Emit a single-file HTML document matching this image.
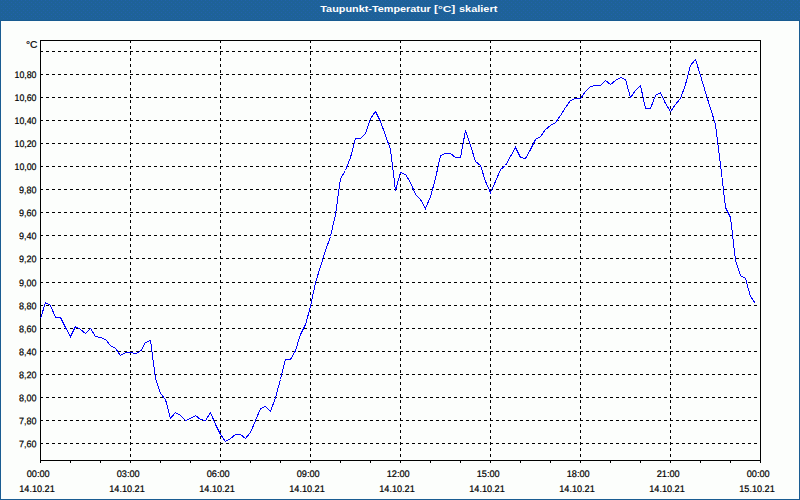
<!DOCTYPE html>
<html><head><meta charset="utf-8"><title>Taupunkt-Temperatur</title>
<style>
html,body{margin:0;padding:0;background:#fcfefc;}
body{width:800px;height:500px;overflow:hidden;font-family:"Liberation Sans",sans-serif;}
svg{display:block;position:absolute;left:0;top:0;}
text{font-family:"Liberation Sans",sans-serif;}
</style></head><body>
<svg width="800" height="500" viewBox="0 0 800 500">
<defs><pattern id="dt" width="4" height="4" patternUnits="userSpaceOnUse"><rect width="4" height="4" fill="#1e6298"/><rect x="1" y="0" width="1" height="1" fill="#2162ac"/><rect x="3" y="2" width="1" height="1" fill="#2162ac"/></pattern></defs>
<rect x="0" y="0" width="800" height="500" fill="#fcfefc"/>
<rect x="0" y="0" width="800" height="21" fill="url(#dt)"/>
<rect x="0" y="20" width="800" height="1" fill="#185b91"/>
<rect x="0" y="20" width="1" height="480" fill="#1a5c92"/>
<rect x="799" y="20" width="1" height="480" fill="#1a5c92"/>
<rect x="0" y="499" width="800" height="1" fill="#1a5c92"/>
<g font-size="9.8px" font-weight="bold" fill="#ffffff"><text x="320.3" y="11.6" textLength="110.5" lengthAdjust="spacingAndGlyphs">Taupunkt-Temperatur</text><text x="434" y="11.6" textLength="21.3" lengthAdjust="spacingAndGlyphs">[°C]</text><text x="459" y="11.6" textLength="38.3" lengthAdjust="spacingAndGlyphs">skaliert</text></g>
<g shape-rendering="crispEdges" fill="none" stroke="#000" stroke-width="1">

<line x1="40" y1="51.5" x2="760" y2="51.5" stroke-dasharray="3 3"/>
<line x1="40" y1="74.5" x2="760" y2="74.5" stroke-dasharray="3 3"/>
<line x1="40" y1="97.5" x2="760" y2="97.5" stroke-dasharray="3 3"/>
<line x1="40" y1="120.5" x2="760" y2="120.5" stroke-dasharray="3 3"/>
<line x1="40" y1="143.5" x2="760" y2="143.5" stroke-dasharray="3 3"/>
<line x1="40" y1="166.5" x2="760" y2="166.5" stroke-dasharray="3 3"/>
<line x1="40" y1="189.5" x2="760" y2="189.5" stroke-dasharray="3 3"/>
<line x1="40" y1="212.5" x2="760" y2="212.5" stroke-dasharray="3 3"/>
<line x1="40" y1="235.5" x2="760" y2="235.5" stroke-dasharray="3 3"/>
<line x1="40" y1="258.5" x2="760" y2="258.5" stroke-dasharray="3 3"/>
<line x1="40" y1="282.5" x2="760" y2="282.5" stroke-dasharray="3 3"/>
<line x1="40" y1="305.5" x2="760" y2="305.5" stroke-dasharray="3 3"/>
<line x1="40" y1="328.5" x2="760" y2="328.5" stroke-dasharray="3 3"/>
<line x1="40" y1="351.5" x2="760" y2="351.5" stroke-dasharray="3 3"/>
<line x1="40" y1="374.5" x2="760" y2="374.5" stroke-dasharray="3 3"/>
<line x1="40" y1="397.5" x2="760" y2="397.5" stroke-dasharray="3 3"/>
<line x1="40" y1="420.5" x2="760" y2="420.5" stroke-dasharray="3 3"/>
<line x1="40" y1="443.5" x2="760" y2="443.5" stroke-dasharray="3 3"/>
<line x1="130.5" y1="40" x2="130.5" y2="460" stroke-dasharray="3 3"/>
<line x1="220.5" y1="40" x2="220.5" y2="460" stroke-dasharray="3 3"/>
<line x1="310.5" y1="40" x2="310.5" y2="460" stroke-dasharray="3 3"/>
<line x1="400.5" y1="40" x2="400.5" y2="460" stroke-dasharray="3 3"/>
<line x1="490.5" y1="40" x2="490.5" y2="460" stroke-dasharray="3 3"/>
<line x1="580.5" y1="40" x2="580.5" y2="460" stroke-dasharray="3 3"/>
<line x1="670.5" y1="40" x2="670.5" y2="460" stroke-dasharray="3 3"/>
<rect x="40.5" y="40.5" width="720" height="420"/>
<line x1="40.5" y1="460" x2="40.5" y2="463"/>
<line x1="70.5" y1="460" x2="70.5" y2="463"/>
<line x1="100.5" y1="460" x2="100.5" y2="463"/>
<line x1="130.5" y1="460" x2="130.5" y2="463"/>
<line x1="160.5" y1="460" x2="160.5" y2="463"/>
<line x1="190.5" y1="460" x2="190.5" y2="463"/>
<line x1="220.5" y1="460" x2="220.5" y2="463"/>
<line x1="250.5" y1="460" x2="250.5" y2="463"/>
<line x1="280.5" y1="460" x2="280.5" y2="463"/>
<line x1="310.5" y1="460" x2="310.5" y2="463"/>
<line x1="340.5" y1="460" x2="340.5" y2="463"/>
<line x1="370.5" y1="460" x2="370.5" y2="463"/>
<line x1="400.5" y1="460" x2="400.5" y2="463"/>
<line x1="430.5" y1="460" x2="430.5" y2="463"/>
<line x1="460.5" y1="460" x2="460.5" y2="463"/>
<line x1="490.5" y1="460" x2="490.5" y2="463"/>
<line x1="520.5" y1="460" x2="520.5" y2="463"/>
<line x1="550.5" y1="460" x2="550.5" y2="463"/>
<line x1="580.5" y1="460" x2="580.5" y2="463"/>
<line x1="610.5" y1="460" x2="610.5" y2="463"/>
<line x1="640.5" y1="460" x2="640.5" y2="463"/>
<line x1="670.5" y1="460" x2="670.5" y2="463"/>
<line x1="700.5" y1="460" x2="700.5" y2="463"/>
<line x1="730.5" y1="460" x2="730.5" y2="463"/>
<line x1="760.5" y1="460" x2="760.5" y2="463"/>
</g>
<polyline shape-rendering="crispEdges" fill="none" stroke="#0000ff" stroke-width="1" points="40.5,318.5 45.5,302.5 50.5,305.5 55.5,317.5 60.5,317.5 65.5,327.5 70.5,336.5 75.5,326.5 80.5,329.5 85.5,333.5 90.5,328.5 95.5,336.5 100.5,337.5 105.5,339.5 110.5,345.5 115.5,348.5 120.5,355.5 125.5,352.5 130.5,352.5 135.5,353.5 140.5,351.5 145.5,342.5 150.5,340.5 155.5,378.5 160.5,393.5 165.5,399.5 170.5,418.5 175.5,412.5 180.5,415.5 185.5,420.5 190.5,418.5 195.5,415.5 200.5,419.5 205.5,420.5 210.5,412.5 215.5,424.5 220.5,434.5 225.5,441.5 230.5,438.5 235.5,434.5 240.5,434.5 245.5,438.5 250.5,432.5 255.5,420.5 260.5,408.5 265.5,406.5 270.5,411.5 275.5,397.5 280.5,379.5 285.5,359.5 290.5,359.5 295.5,350.5 300.5,334.5 305.5,324.5 310.5,306.5 315.5,282.5 320.5,266.5 325.5,250.5 330.5,236.5 335.5,214.5 340.5,178.5 345.5,170.5 350.5,157.5 355.5,138.5 360.5,138.5 365.5,133.5 370.5,118.5 375.5,111.5 380.5,121.5 385.5,135.5 390.5,149.5 395.5,190.5 400.5,172.5 405.5,174.5 410.5,182.5 415.5,194.5 420.5,199.5 425.5,208.5 430.5,196.5 435.5,178.5 440.5,155.5 445.5,153.5 450.5,153.5 455.5,157.5 460.5,157.5 465.5,130.5 470.5,145.5 475.5,161.5 480.5,165.5 485.5,181.5 490.5,192.5 495.5,181.5 500.5,169.5 505.5,165.5 510.5,156.5 515.5,147.5 520.5,157.5 525.5,158.5 530.5,149.5 535.5,139.5 540.5,136.5 545.5,129.5 550.5,125.5 555.5,122.5 560.5,115.5 565.5,107.5 570.5,100.5 575.5,98.5 580.5,98.5 585.5,91.5 590.5,86.5 595.5,85.5 600.5,85.5 605.5,80.5 610.5,84.5 615.5,80.5 620.5,77.5 625.5,79.5 630.5,97.5 635.5,90.5 640.5,85.5 645.5,108.5 650.5,108.5 655.5,95.5 660.5,92.5 665.5,103.5 670.5,111.5 675.5,104.5 680.5,98.5 685.5,84.5 690.5,65.5 695.5,59.5 700.5,75.5 705.5,92.5 710.5,108.5 715.5,124.5 720.5,164.5 725.5,207.5 730.5,217.5 735.5,260.5 740.5,275.5 745.5,278.5 750.5,296.5 755.5,303.5"/>
<g font-size="9.5px" fill="#000" stroke="#000" stroke-width="0.2">
<text x="37.5" y="47.85" transform="rotate(0.03 37.5 47.85)" text-anchor="end" textLength="11.5" lengthAdjust="spacingAndGlyphs">°C</text>
<text x="36.5" y="78.25" transform="rotate(0.03 36.5 78.25)" text-anchor="end" textLength="22" lengthAdjust="spacingAndGlyphs">10,80</text>
<text x="36.5" y="101.25" transform="rotate(0.03 36.5 101.25)" text-anchor="end" textLength="22" lengthAdjust="spacingAndGlyphs">10,60</text>
<text x="36.5" y="124.25" transform="rotate(0.03 36.5 124.25)" text-anchor="end" textLength="22" lengthAdjust="spacingAndGlyphs">10,40</text>
<text x="36.5" y="147.25" transform="rotate(0.03 36.5 147.25)" text-anchor="end" textLength="22" lengthAdjust="spacingAndGlyphs">10,20</text>
<text x="36.5" y="170.25" transform="rotate(0.03 36.5 170.25)" text-anchor="end" textLength="22" lengthAdjust="spacingAndGlyphs">10,00</text>
<text x="36.5" y="193.25" transform="rotate(0.03 36.5 193.25)" text-anchor="end" textLength="17.5" lengthAdjust="spacingAndGlyphs">9,80</text>
<text x="36.5" y="216.25" transform="rotate(0.03 36.5 216.25)" text-anchor="end" textLength="17.5" lengthAdjust="spacingAndGlyphs">9,60</text>
<text x="36.5" y="239.25" transform="rotate(0.03 36.5 239.25)" text-anchor="end" textLength="17.5" lengthAdjust="spacingAndGlyphs">9,40</text>
<text x="36.5" y="262.25" transform="rotate(0.03 36.5 262.25)" text-anchor="end" textLength="17.5" lengthAdjust="spacingAndGlyphs">9,20</text>
<text x="36.5" y="286.25" transform="rotate(0.03 36.5 286.25)" text-anchor="end" textLength="17.5" lengthAdjust="spacingAndGlyphs">9,00</text>
<text x="36.5" y="309.25" transform="rotate(0.03 36.5 309.25)" text-anchor="end" textLength="17.5" lengthAdjust="spacingAndGlyphs">8,80</text>
<text x="36.5" y="332.25" transform="rotate(0.03 36.5 332.25)" text-anchor="end" textLength="17.5" lengthAdjust="spacingAndGlyphs">8,60</text>
<text x="36.5" y="355.25" transform="rotate(0.03 36.5 355.25)" text-anchor="end" textLength="17.5" lengthAdjust="spacingAndGlyphs">8,40</text>
<text x="36.5" y="378.25" transform="rotate(0.03 36.5 378.25)" text-anchor="end" textLength="17.5" lengthAdjust="spacingAndGlyphs">8,20</text>
<text x="36.5" y="401.25" transform="rotate(0.03 36.5 401.25)" text-anchor="end" textLength="17.5" lengthAdjust="spacingAndGlyphs">8,00</text>
<text x="36.5" y="424.25" transform="rotate(0.03 36.5 424.25)" text-anchor="end" textLength="17.5" lengthAdjust="spacingAndGlyphs">7,80</text>
<text x="36.5" y="447.25" transform="rotate(0.03 36.5 447.25)" text-anchor="end" textLength="17.5" lengthAdjust="spacingAndGlyphs">7,60</text>
<text x="38.2" y="477.05" transform="rotate(0.03 38.2 477.05)" text-anchor="middle" textLength="23" lengthAdjust="spacingAndGlyphs">00:00</text>
<text x="37" y="491.9" transform="rotate(0.03 37 491.9)" text-anchor="middle" textLength="35.5" lengthAdjust="spacingAndGlyphs">14.10.21</text>
<text x="128.2" y="477.05" transform="rotate(0.03 128.2 477.05)" text-anchor="middle" textLength="23" lengthAdjust="spacingAndGlyphs">03:00</text>
<text x="127" y="491.9" transform="rotate(0.03 127 491.9)" text-anchor="middle" textLength="35.5" lengthAdjust="spacingAndGlyphs">14.10.21</text>
<text x="218.2" y="477.05" transform="rotate(0.03 218.2 477.05)" text-anchor="middle" textLength="23" lengthAdjust="spacingAndGlyphs">06:00</text>
<text x="217" y="491.9" transform="rotate(0.03 217 491.9)" text-anchor="middle" textLength="35.5" lengthAdjust="spacingAndGlyphs">14.10.21</text>
<text x="308.2" y="477.05" transform="rotate(0.03 308.2 477.05)" text-anchor="middle" textLength="23" lengthAdjust="spacingAndGlyphs">09:00</text>
<text x="307" y="491.9" transform="rotate(0.03 307 491.9)" text-anchor="middle" textLength="35.5" lengthAdjust="spacingAndGlyphs">14.10.21</text>
<text x="398.2" y="477.05" transform="rotate(0.03 398.2 477.05)" text-anchor="middle" textLength="23" lengthAdjust="spacingAndGlyphs">12:00</text>
<text x="397" y="491.9" transform="rotate(0.03 397 491.9)" text-anchor="middle" textLength="35.5" lengthAdjust="spacingAndGlyphs">14.10.21</text>
<text x="488.2" y="477.05" transform="rotate(0.03 488.2 477.05)" text-anchor="middle" textLength="23" lengthAdjust="spacingAndGlyphs">15:00</text>
<text x="487" y="491.9" transform="rotate(0.03 487 491.9)" text-anchor="middle" textLength="35.5" lengthAdjust="spacingAndGlyphs">14.10.21</text>
<text x="578.2" y="477.05" transform="rotate(0.03 578.2 477.05)" text-anchor="middle" textLength="23" lengthAdjust="spacingAndGlyphs">18:00</text>
<text x="577" y="491.9" transform="rotate(0.03 577 491.9)" text-anchor="middle" textLength="35.5" lengthAdjust="spacingAndGlyphs">14.10.21</text>
<text x="668.2" y="477.05" transform="rotate(0.03 668.2 477.05)" text-anchor="middle" textLength="23" lengthAdjust="spacingAndGlyphs">21:00</text>
<text x="667" y="491.9" transform="rotate(0.03 667 491.9)" text-anchor="middle" textLength="35.5" lengthAdjust="spacingAndGlyphs">14.10.21</text>
<text x="758.2" y="477.05" transform="rotate(0.03 758.2 477.05)" text-anchor="middle" textLength="23" lengthAdjust="spacingAndGlyphs">00:00</text>
<text x="757" y="491.9" transform="rotate(0.03 757 491.9)" text-anchor="middle" textLength="35.5" lengthAdjust="spacingAndGlyphs">15.10.21</text>
</g></svg></body></html>
